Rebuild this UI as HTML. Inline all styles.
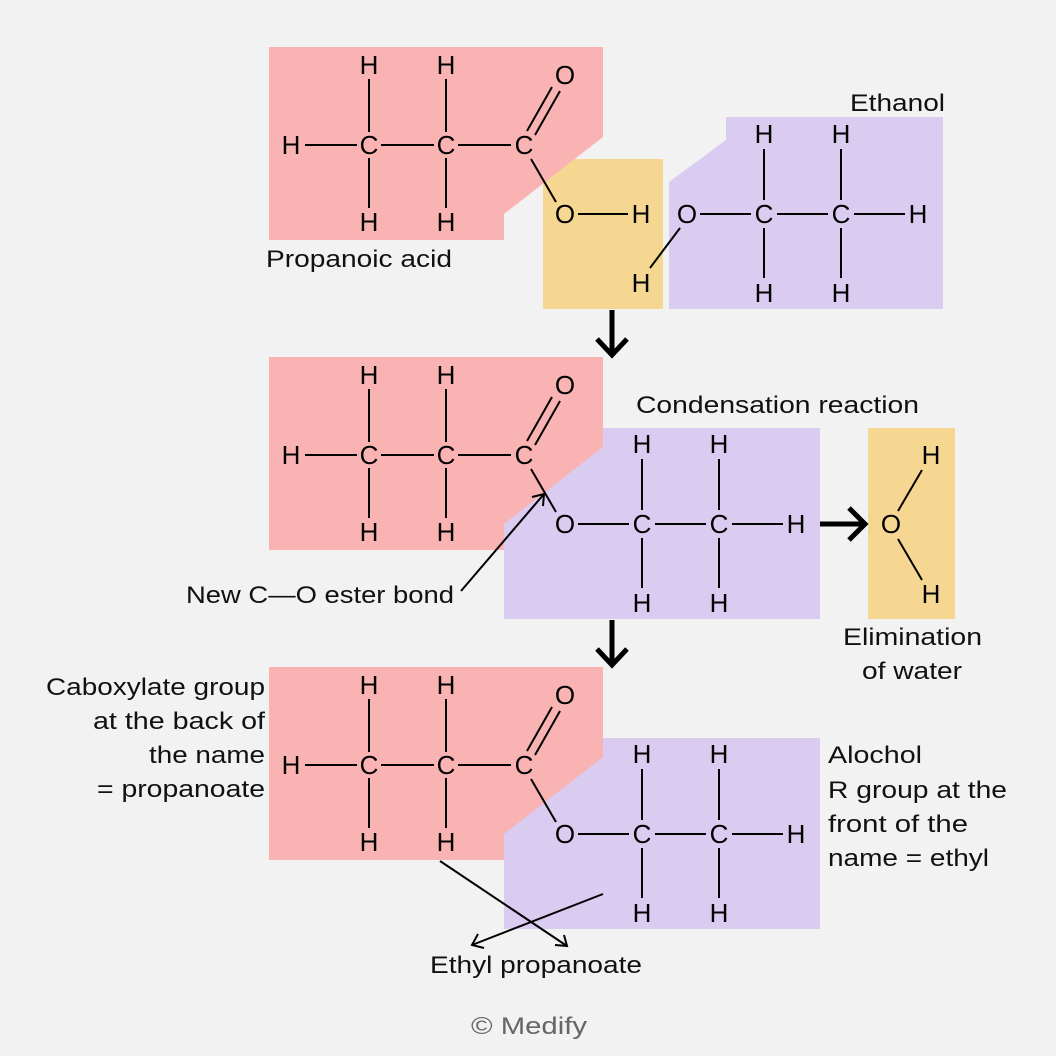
<!DOCTYPE html>
<html><head><meta charset="utf-8"><style>
html,body{margin:0;padding:0;background:#f2f2f2}
svg{display:block}
.a{font-family:"Liberation Sans",sans-serif;font-size:26px;text-anchor:middle;fill:#000}
.l{font-family:"Liberation Sans",sans-serif;font-size:24px;fill:#111}
line,polyline{stroke:#000;stroke-width:2;fill:none}
</style></head><body>
<svg width="1056" height="1056" viewBox="0 0 1056 1056">
<defs>
<g id="red">
<polygon points="269,47 603,47 603,137 504,214 504,240 269,240" fill="#f9b3b3"/>
<text class="a" x="291" y="154">H</text>
<text class="a" x="369" y="154">C</text>
<text class="a" x="446" y="154">C</text>
<text class="a" x="524" y="154">C</text>
<text class="a" x="565" y="84">O</text>
<text class="a" x="369" y="74">H</text>
<text class="a" x="446" y="74">H</text>
<text class="a" x="369" y="231">H</text>
<text class="a" x="446" y="231">H</text>
<line x1="305" y1="145" x2="357" y2="145"/>
<line x1="381" y1="145" x2="434" y2="145"/>
<line x1="458" y1="145" x2="511" y2="145"/>
<line x1="369" y1="79" x2="369" y2="132"/>
<line x1="446" y1="79" x2="446" y2="132"/>
<line x1="369" y1="158" x2="369" y2="208"/>
<line x1="446" y1="158" x2="446" y2="208"/>
<line x1="527" y1="131" x2="552" y2="87"/>
<line x1="535" y1="135" x2="560" y2="91"/>
<line x1="531" y1="159" x2="556" y2="202"/>
</g>
<g id="eth">
<text class="a" x="565" y="533">O</text>
<text class="a" x="642" y="533">C</text>
<text class="a" x="719" y="533">C</text>
<text class="a" x="796" y="533">H</text>
<text class="a" x="642" y="453">H</text>
<text class="a" x="719" y="453">H</text>
<text class="a" x="642" y="612">H</text>
<text class="a" x="719" y="612">H</text>
<line x1="578" y1="524" x2="629" y2="524"/>
<line x1="655" y1="524" x2="706" y2="524"/>
<line x1="732" y1="524" x2="783" y2="524"/>
<line x1="642" y1="459" x2="642" y2="510"/>
<line x1="719" y1="459" x2="719" y2="510"/>
<line x1="642" y1="538" x2="642" y2="588"/>
<line x1="719" y1="538" x2="719" y2="588"/>
</g>
</defs>

<!-- Row 1 -->
<rect x="543" y="159" width="120" height="150" fill="#f6d791"/>
<polygon points="726,117 943,117 943,309 669,309 669,182 726,140" fill="#d9ccf0"/>
<use href="#red"/>
<text class="a" x="565" y="223">O</text>
<text class="a" x="641" y="223">H</text>
<line x1="578" y1="214" x2="628" y2="214"/>
<text class="a" x="641" y="292">H</text>
<line x1="650" y1="268" x2="680" y2="228"/>
<use href="#eth" transform="translate(122,-310)"/>
<text class="l" x="850" y="111" textLength="95" lengthAdjust="spacingAndGlyphs">Ethanol</text>
<text class="l" x="266" y="267" textLength="186" lengthAdjust="spacingAndGlyphs">Propanoic acid</text>

<line x1="612" y1="310" x2="612" y2="354" style="stroke-width:5"/>
<polyline points="597,339 612,355 627,339" style="stroke-width:5"/>

<!-- Row 2 -->
<polygon points="504,428 820,428 820,619 504,619" fill="#d9ccf0"/>
<use href="#red" transform="translate(0,310)"/>
<use href="#eth"/>
<rect x="868" y="428" width="87" height="191" fill="#f6d791"/>
<text class="a" x="891" y="533">O</text>
<text class="a" x="931" y="464">H</text>
<text class="a" x="931" y="603">H</text>
<line x1="898" y1="511" x2="922" y2="470"/>
<line x1="898" y1="539" x2="922" y2="580"/>
<line x1="820" y1="524" x2="862" y2="524" style="stroke-width:5"/>
<polyline points="849,508 865,524 849,540" style="stroke-width:5"/>
<text class="l" x="636" y="413" textLength="283" lengthAdjust="spacingAndGlyphs">Condensation reaction</text>
<text class="l" x="843" y="645" textLength="139" lengthAdjust="spacingAndGlyphs">Elimination</text>
<text class="l" x="862" y="679" textLength="100" lengthAdjust="spacingAndGlyphs">of water</text>
<text class="l" x="186" y="603" textLength="268" lengthAdjust="spacingAndGlyphs">New C—O ester bond</text>
<line x1="461" y1="591" x2="544" y2="494"/>
<polyline points="532,497 544,494 543,506"/>

<line x1="612" y1="620" x2="612" y2="664" style="stroke-width:5"/>
<polyline points="597,649 612,665 627,649" style="stroke-width:5"/>

<!-- Row 3 -->
<polygon points="504,738 820,738 820,929 504,929" fill="#d9ccf0"/>
<use href="#red" transform="translate(0,620)"/>
<use href="#eth" transform="translate(0,310)"/>
<text class="l" x="46" y="695" textLength="219" lengthAdjust="spacingAndGlyphs">Caboxylate group</text>
<text class="l" x="93" y="729" textLength="172" lengthAdjust="spacingAndGlyphs">at the back of</text>
<text class="l" x="149" y="763" textLength="116" lengthAdjust="spacingAndGlyphs">the name</text>
<text class="l" x="97" y="797" textLength="168" lengthAdjust="spacingAndGlyphs">= propanoate</text>
<text class="l" x="828" y="763" textLength="94" lengthAdjust="spacingAndGlyphs">Alochol</text>
<text class="l" x="828" y="798" textLength="179" lengthAdjust="spacingAndGlyphs">R group at the</text>
<text class="l" x="828" y="832" textLength="140" lengthAdjust="spacingAndGlyphs">front of the</text>
<text class="l" x="828" y="866" textLength="161" lengthAdjust="spacingAndGlyphs">name = ethyl</text>
<line x1="440" y1="861" x2="567" y2="946"/>
<polyline points="555,945 567,946 564,935"/>
<line x1="603" y1="894" x2="472" y2="945"/>
<polyline points="478,934 472,945 484,948"/>
<text class="l" x="430" y="973" textLength="212" lengthAdjust="spacingAndGlyphs">Ethyl propanoate</text>
<text class="l" x="471" y="1034" textLength="116" lengthAdjust="spacingAndGlyphs" style="fill:#666">© Medify</text>
</svg>
</body></html>
